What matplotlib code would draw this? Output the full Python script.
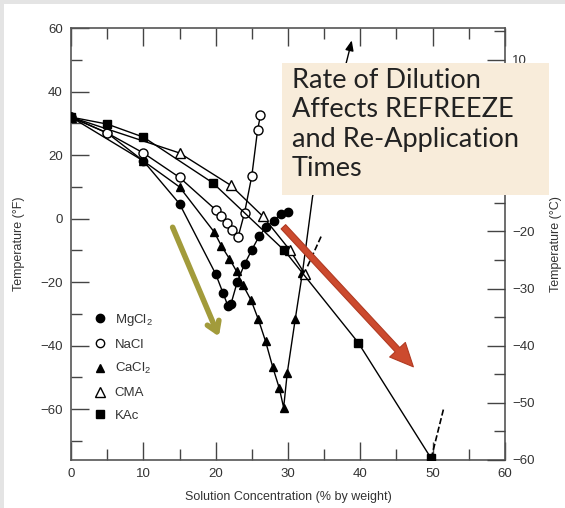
import matplotlib
matplotlib.use("Agg")
import matplotlib.pyplot as plt
from matplotlib.lines import Line2D
from matplotlib.patches import Rectangle
from matplotlib.ticker import MultipleLocator, FuncFormatter

plt.rcParams['font.family'] = ['Liberation Sans', 'DejaVu Sans']
plt.rcParams['mathtext.default'] = 'regular'

# freezing curves (temperature in F vs % by weight)
mgcl2_x = [0, 5, 10, 15, 20, 21, 21.7, 22.1, 23, 24, 25, 26, 27, 28, 29, 30]
mgcl2_y = [32, 27, 18.2, 4.7, -17.4, -23.3, -27.5, -27, -19.8, -14.3, -9.8, -5.6, -2.5, -0.8, 1.6, 2.2]

nacl_x = [0, 5, 10, 15, 20, 20.8, 21.6, 22.3, 23.1, 24, 25, 25.8, 26.2]
nacl_y = [32, 27, 20.7, 13, 2.8, 0.7, -1.4, -3.5, -5.8, 1.9, 13.5, 28, 32.6]

cacl2_x = [0, 10, 15, 19.8, 20.8, 21.9, 22.9, 23.8, 24.9, 25.9, 26.9, 27.9, 28.8, 29.4, 29.9, 31, 32]
cacl2_y = [32, 18.2, 10, -4.2, -8.6, -12.6, -16.6, -21, -25.7, -31.7, -38.6, -46.8, -53.4, -59.5, -48.6, -31.7, -17]
cacl2_ext_x = [32, 33.4, 38.6]
cacl2_ext_y = [-17, 7, 54]

cma_x = [0, 15, 22.1, 26.5, 30.3, 32.3]
cma_y = [32, 20.7, 10.5, 0.8, -10, -17.3]
cma_dash_x = [32.7, 34.6]
cma_dash_y = [-15, -5.5]

kac_x = [0, 5, 10, 19.6, 29.5, 39.7, 49.8]
kac_y = [32, 29.8, 25.7, 11.3, -10, -39, -75.5]
kac_dash_x = [49.8, 51.5]
kac_dash_y = [-75.5, -60]

legend_labels = ['MgCl$_2$', 'NaCl', 'CaCl$_2$', 'CMA', 'KAc']
box_text = "Rate of Dilution\nAffects REFREEZE\nand Re-Application\nTimes"
hidden_c_labels = [0, -10]  # covered by the text box in the original

fig = plt.figure(figsize=(5.65, 5.08), dpi=100)
ax = fig.add_axes([0.1257, 0.0945, 0.768, 0.850])

ms = 6
ax.plot(mgcl2_x, mgcl2_y, '-o', color='k', lw=1, ms=ms, mfc='k', zorder=3)
ax.plot(nacl_x, nacl_y, '-o', color='k', lw=1, ms=ms + 0.5, mfc='white', zorder=3)
ax.plot(cacl2_x, cacl2_y, '-^', color='k', lw=1, ms=ms, mfc='k', zorder=3)
ax.plot(cacl2_ext_x, cacl2_ext_y, '-', color='k', lw=1, zorder=2)
ax.annotate('', xy=(38.9, 57), xytext=(cacl2_ext_x[-1], cacl2_ext_y[-1]),
            arrowprops=dict(arrowstyle='-|>,head_length=0.6,head_width=0.25', color='k', lw=1))
ax.plot(cma_x, cma_y, '-^', color='k', lw=1, ms=ms + 1, mfc='white', zorder=3)
ax.plot(cma_dash_x, cma_dash_y, '--', color='k', lw=1.2)
ax.plot(kac_x, kac_y, '-s', color='k', lw=1, ms=ms - 0.5, mfc='k', zorder=3)
ax.plot(kac_dash_x, kac_dash_y, '--', color='k', lw=1.2)

ax.set_xlim(0, 60)
ax.set_ylim(-76, 60)
ax.xaxis.set_major_locator(MultipleLocator(10))
ax.xaxis.set_minor_locator(MultipleLocator(5))
ax.yaxis.set_major_locator(MultipleLocator(20))
ax.yaxis.set_minor_locator(MultipleLocator(10))
ax.tick_params(which='both', direction='in', top=True, right=False,
               colors='#444', labelcolor='#333', labelsize=9.5, width=1)
ax.tick_params(which='major', length=13, pad=6)
ax.tick_params(which='minor', length=8)
for s in ax.spines.values():
    s.set_color('#555')
    s.set_linewidth(1.2)
ax.set_xlabel('Solution Concentration (% by weight)', fontsize=9, color='#333', labelpad=8)
ax.set_ylabel('Temperature (°F)', fontsize=9, color='#333', labelpad=11)

ax2 = ax.twinx()
ax2.set_ylim((-76 - 32) / 1.8, (60 - 32) / 1.8)
ax2.yaxis.set_major_locator(MultipleLocator(10))
ax2.yaxis.set_minor_locator(MultipleLocator(5))
ax2.yaxis.set_major_formatter(FuncFormatter(
    lambda v, p: '' if round(v) in hidden_c_labels else f'{v:.0f}'.replace('-', '\u2212')))
ax2.tick_params(which='both', direction='in', colors='#444', labelcolor='#333',
                labelsize=9.5, width=1)
ax2.tick_params(which='major', length=13, pad=5)
ax2.tick_params(which='minor', length=8)
for s in ax2.spines.values():
    s.set_visible(False)
ax2.set_ylabel('Temperature (°C)', fontsize=9, color='#333', labelpad=11)

handles = [
    Line2D([], [], marker='o', ls='none', mfc='k', mec='k', ms=ms),
    Line2D([], [], marker='o', ls='none', mfc='white', mec='k', ms=ms),
    Line2D([], [], marker='^', ls='none', mfc='k', mec='k', ms=ms),
    Line2D([], [], marker='^', ls='none', mfc='white', mec='k', ms=ms + 1),
    Line2D([], [], marker='s', ls='none', mfc='k', mec='k', ms=ms - 0.5),
]
leg = ax.legend(handles, legend_labels, loc='upper left', bbox_to_anchor=(0.04, 0.355),
                frameon=False, fontsize=9.5, handlelength=1, handletextpad=0.6,
                labelspacing=0.8, borderaxespad=0)
for t in leg.get_texts():
    t.set_color('#333')

# coloured arrows
ax.annotate('', xy=(20.6, -37.9), xytext=(13.9, -1.9),
            arrowprops=dict(arrowstyle='->,head_length=0.7,head_width=0.45',
                            color='#a29b3b', lw=4), zorder=5)
ax.annotate('', xy=(47.6, -47.3), xytext=(29.1, -1.9),
            arrowprops=dict(arrowstyle='simple,head_length=1.2,head_width=1.1,tail_width=0.32',
                            fc='#cc4a2e', ec='#b03a22', lw=0.8, mutation_scale=14), zorder=5)

# text box
fig.patches.append(Rectangle((282 / 565, 1 - 195 / 508), 267 / 565, 132 / 508,
                             transform=fig.transFigure, facecolor='#f8ecda',
                             edgecolor='none', zorder=5))
fig.text(292 / 565, 1 - 68 / 508, box_text, fontsize=19.5, family='Lato',
         color='#222', va='top', ha='left', linespacing=1.22, zorder=6)

# light frame around the slide
fig.patches.append(Rectangle((0, 0), 4 / 565, 1, transform=fig.transFigure,
                             facecolor='#e4e4e4', edgecolor='none', zorder=0))
fig.patches.append(Rectangle((0, 1 - 4 / 508), 1, 4 / 508, transform=fig.transFigure,
                             facecolor='#e4e4e4', edgecolor='none', zorder=0))

fig.savefig('out.png', dpi=100)
